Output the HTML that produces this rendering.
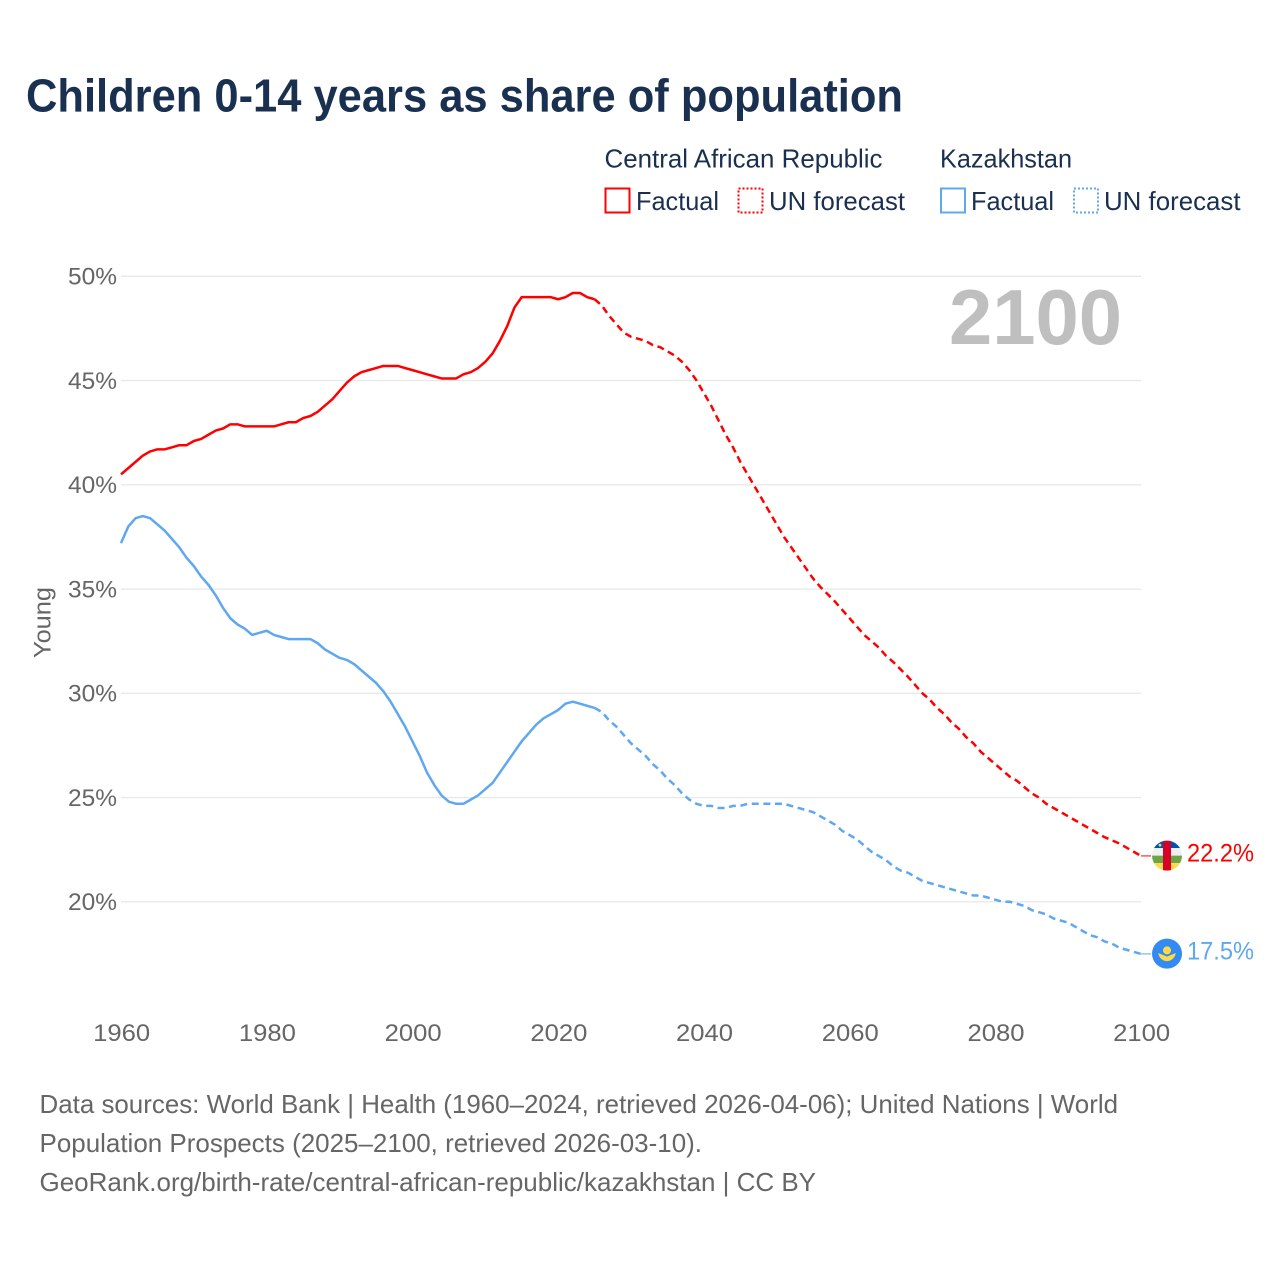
<!DOCTYPE html>
<html lang="en">
<head>
<meta charset="utf-8">
<title>Children 0-14 years as share of population</title>
<style>
  html, body { margin: 0; padding: 0; background: #fff; }
  svg { display: block; font-family: "Liberation Sans", sans-serif; }
</style>
</head>
<body>
<svg id="chart" xmlns="http://www.w3.org/2000/svg" width="1280" height="1280" viewBox="0 0 1280 1280">
  <rect x="0" y="0" width="1280" height="1280" fill="#fff"/>
  <text x="26" y="111.5" font-size="46" font-weight="700" fill="#1a3050" textLength="877" lengthAdjust="spacingAndGlyphs">Children 0-14 years as share of population</text>

  <g font-size="26" fill="#1a3050">
    <text x="604.5" y="167.5" textLength="278" lengthAdjust="spacingAndGlyphs">Central African Republic</text>
    <text x="940" y="167.5" textLength="132" lengthAdjust="spacingAndGlyphs">Kazakhstan</text>
    <rect x="605.5" y="188.5" width="24" height="24" fill="none" stroke="#ff0000" stroke-width="2"/>
    <text x="636" y="210" textLength="83" lengthAdjust="spacingAndGlyphs">Factual</text>
    <rect x="738.5" y="188.5" width="24" height="24" fill="none" stroke="#ff0000" stroke-width="2" stroke-dasharray="2 2"/>
    <text x="769" y="210" textLength="136" lengthAdjust="spacingAndGlyphs">UN forecast</text>
    <rect x="941" y="188.5" width="24" height="24" fill="none" stroke="#5fa8f0" stroke-width="2"/>
    <text x="971" y="210" textLength="83" lengthAdjust="spacingAndGlyphs">Factual</text>
    <rect x="1074" y="188.5" width="24" height="24" fill="none" stroke="#5fa8f0" stroke-width="2" stroke-dasharray="2 2"/>
    <text x="1104" y="210" textLength="136.5" lengthAdjust="spacingAndGlyphs">UN forecast</text>
  </g>

  <g id="grid"></g>
  <g id="yticks" font-size="24" fill="#666"></g>
  <g id="xticks" font-size="24" fill="#666"></g>
  <text transform="translate(50.5,622.5) rotate(-90)" text-anchor="middle" font-size="24" fill="#666" textLength="71" lengthAdjust="spacingAndGlyphs">Young</text>
  <text x="949" y="344" font-size="78" font-weight="700" fill="#bfbfbf" textLength="173" lengthAdjust="spacingAndGlyphs">2100</text>

  <g id="series"></g>

  <g id="flag-car">
    <clipPath id="clip-car"><circle cx="0" cy="0" r="15"/></clipPath>
    <g clip-path="url(#clip-car)">
      <rect x="-15" y="-15" width="30" height="7.5" fill="#0052b4"/>
      <rect x="-15" y="-7.5" width="30" height="7.5" fill="#f0f0f0"/>
      <rect x="-15" y="0" width="30" height="7.5" fill="#6da544"/>
      <rect x="-15" y="7.5" width="30" height="7.5" fill="#ffda44"/>
      <rect x="-4" y="-15" width="8" height="30" fill="#d80027"/>
      <circle cx="-7" cy="-10.5" r="1.4" fill="#ffda44"/>
    </g>
  </g>
  <g id="flag-kaz">
    <circle cx="0" cy="0" r="15" fill="#338af3"/>
    <circle cx="0" cy="-3.3" r="4" fill="#ffda44"/>
    <path d="M-8.8 -0.5 C-6 0.5 -3 1.5 0 3 C3 1.5 6 0.5 8.8 -0.5 C8 4.5 4 7.5 0 7.5 C-4 7.5 -8 4.5 -8.8 -0.5 Z" fill="#ffda44"/>
  </g>

  <g font-size="26" fill="#666">
    <text x="39.5" y="1113" textLength="1078.5" lengthAdjust="spacingAndGlyphs">Data sources: World Bank | Health (1960–2024, retrieved 2026-04-06); United Nations | World</text>
    <text x="39.5" y="1152" textLength="662.5" lengthAdjust="spacingAndGlyphs">Population Prospects (2025–2100, retrieved 2026-03-10).</text>
    <text x="39.5" y="1191" textLength="776.5" lengthAdjust="spacingAndGlyphs">GeoRank.org/birth-rate/central-african-republic/kazakhstan | CC BY</text>
  </g>
</svg>

<script>
const years = [1960,1961,1962,1963,1964,1965,1966,1967,1968,1969,1970,1971,1972,1973,1974,1975,1976,1977,1978,1979,
  1980,1981,1982,1983,1984,1985,1986,1987,1988,1989,1990,1991,1992,1993,1994,1995,1996,1997,1998,1999,
  2000,2001,2002,2003,2004,2005,2006,2007,2008,2009,2010,2011,2012,2013,2014,2015,2016,2017,2018,2019,
  2020,2021,2022,2023,2024,2025,2026,2027,2028,2029,2030,2031,2032,2033,2034,2035,2036,2037,2038,2039,
  2040,2041,2042,2043,2044,2045,2046,2047,2048,2049,2050,2051,2052,2053,2054,2055,2056,2057,2058,2059,
  2060,2061,2062,2063,2064,2065,2066,2067,2068,2069,2070,2071,2072,2073,2074,2075,2076,2077,2078,2079,
  2080,2081,2082,2083,2084,2085,2086,2087,2088,2089,2090,2091,2092,2093,2094,2095,2096,2097,2098,2099,2100];

const carValues = [40.5,40.8,41.1,41.4,41.6,41.7,41.7,41.8,41.9,41.9,
  42.1,42.2,42.4,42.6,42.7,42.9,42.9,42.8,42.8,42.8,
  42.8,42.8,42.9,43.0,43.0,43.2,43.3,43.5,43.8,44.1,
  44.5,44.9,45.2,45.4,45.5,45.6,45.7,45.7,45.7,45.6,
  45.5,45.4,45.3,45.2,45.1,45.1,45.1,45.3,45.4,45.6,
  45.9,46.3,46.9,47.6,48.5,49.0,49.0,49.0,49.0,49.0,
  48.9,49.0,49.2,49.2,49.0,48.9,48.6,48.1,47.7,47.3,
  47.1,47.0,46.9,46.7,46.6,46.4,46.2,45.9,45.5,45.0,
  44.4,43.8,43.1,42.4,41.8,41.1,40.5,39.9,39.3,38.7,
  38.1,37.5,37.0,36.5,36.0,35.5,35.1,34.75,34.4,34.0,
  33.6,33.2,32.8,32.5,32.2,31.8,31.5,31.15,30.8,30.4,
  30.0,29.7,29.3,29.0,28.6,28.3,27.9,27.6,27.2,26.9,
  26.6,26.3,26.0,25.8,25.5,25.2,25.0,24.7,24.5,24.3,
  24.1,23.9,23.7,23.5,23.3,23.1,22.95,22.8,22.6,22.4,22.2];

const kazValues = [37.2,38.0,38.4,38.5,38.4,38.1,37.8,37.4,37.0,36.5,
  36.1,35.6,35.2,34.7,34.1,33.6,33.3,33.1,32.8,32.9,
  33.0,32.8,32.7,32.6,32.6,32.6,32.6,32.4,32.1,31.9,
  31.7,31.6,31.4,31.1,30.8,30.5,30.1,29.6,29.0,28.4,
  27.7,27.0,26.2,25.6,25.1,24.8,24.7,24.7,24.9,25.1,
  25.4,25.7,26.2,26.7,27.2,27.7,28.1,28.5,28.8,29.0,
  29.2,29.5,29.6,29.5,29.4,29.3,29.1,28.7,28.4,28.0,
  27.6,27.3,27.0,26.6,26.3,25.9,25.6,25.2,24.9,24.7,
  24.6,24.6,24.5,24.5,24.6,24.6,24.7,24.7,24.7,24.7,
  24.7,24.7,24.6,24.5,24.4,24.3,24.1,23.9,23.7,23.4,
  23.2,23.0,22.7,22.4,22.2,22.0,21.7,21.5,21.4,21.2,
  21.0,20.9,20.8,20.7,20.6,20.5,20.4,20.3,20.3,20.2,
  20.1,20.0,20.0,19.9,19.8,19.6,19.5,19.4,19.2,19.1,
  19.0,18.8,18.6,18.4,18.3,18.1,18.0,17.8,17.7,17.6,17.5];

const forecastStartYear = 2025;
const yTickValues = [50, 45, 40, 35, 30, 25, 20];
const xTickValues = [1960, 1980, 2000, 2020, 2040, 2060, 2080, 2100];

const svgNS = 'http://www.w3.org/2000/svg';
const plotLeft = 121, plotRight = 1141, yTop = 276.3, pxPerPercent = 20.85;
const RED = '#ff0000', BLUE = '#5fa8f0';

function xScale(year) {
  return plotLeft + (year - 1960) * (plotRight - plotLeft) / 140;
}
function yScale(v) {
  return yTop + (50 - v) * pxPerPercent;
}
function make(tag, attrs, parent) {
  const el = document.createElementNS(svgNS, tag);
  for (const k in attrs) el.setAttribute(k, attrs[k]);
  parent.appendChild(el);
  return el;
}
function pathFor(values, fromYear, toYear) {
  let d = '';
  years.forEach(function (yr, i) {
    if (yr < fromYear || yr > toYear) return;
    d += (d ? 'L' : 'M') + xScale(yr).toFixed(2) + ' ' + yScale(values[i]).toFixed(2);
  });
  return d;
}

const gridG = document.getElementById('grid');
const yG = document.getElementById('yticks');
const xG = document.getElementById('xticks');
const seriesG = document.getElementById('series');

yTickValues.forEach(function (v) {
  const line = make('line', { x1: plotLeft, x2: plotRight, y1: yScale(v), y2: yScale(v), stroke: '#e9e9e9', 'stroke-width': 1.3 }, gridG);
  
  
  const t = make('text', { x: 117, y: yScale(v) + 8.2, 'text-anchor': 'end', textLength: 49, lengthAdjust: 'spacingAndGlyphs' }, yG);
  t.textContent = v + '%';
  
  
});

xTickValues.forEach(function (yr) {
  const t = make('text', { x: xScale(yr) + 0.7, y: 1041, 'text-anchor': 'middle', textLength: 57, lengthAdjust: 'spacingAndGlyphs' }, xG);
  t.textContent = String(yr);
  
  
});

function drawSeries(key, values, color, flagId) {
  const last = values[values.length - 1];
  const yEnd = yScale(last);

  const factual = make('path', { d: pathFor(values, 1960, forecastStartYear), fill: 'none', stroke: color, 'stroke-width': 2.5, 'stroke-linejoin': 'round' }, seriesG);
  
  

  const forecast = make('path', { d: pathFor(values, forecastStartYear, 2100), fill: 'none', stroke: color, 'stroke-width': 2.5, 'stroke-dasharray': '7 4.6' }, seriesG);
  
  

  const connector = make('line', { x1: plotRight, x2: 1151, y1: yEnd, y2: yEnd, stroke: color, 'stroke-width': 1 }, seriesG);
  
  

  document.getElementById(flagId).setAttribute('transform', 'translate(1167,' + (yEnd - 0.3) + ')');

  const label = make('text', { x: 1187, y: yEnd + 5.7, 'font-size': 25, fill: color, textLength: 67, lengthAdjust: 'spacingAndGlyphs' }, seriesG);
  label.textContent = last.toFixed(1) + '%';
  
  
}

drawSeries('central-african-republic', carValues, RED, 'flag-car');
drawSeries('kazakhstan', kazValues, BLUE, 'flag-kaz');
</script>
</body>
</html>
